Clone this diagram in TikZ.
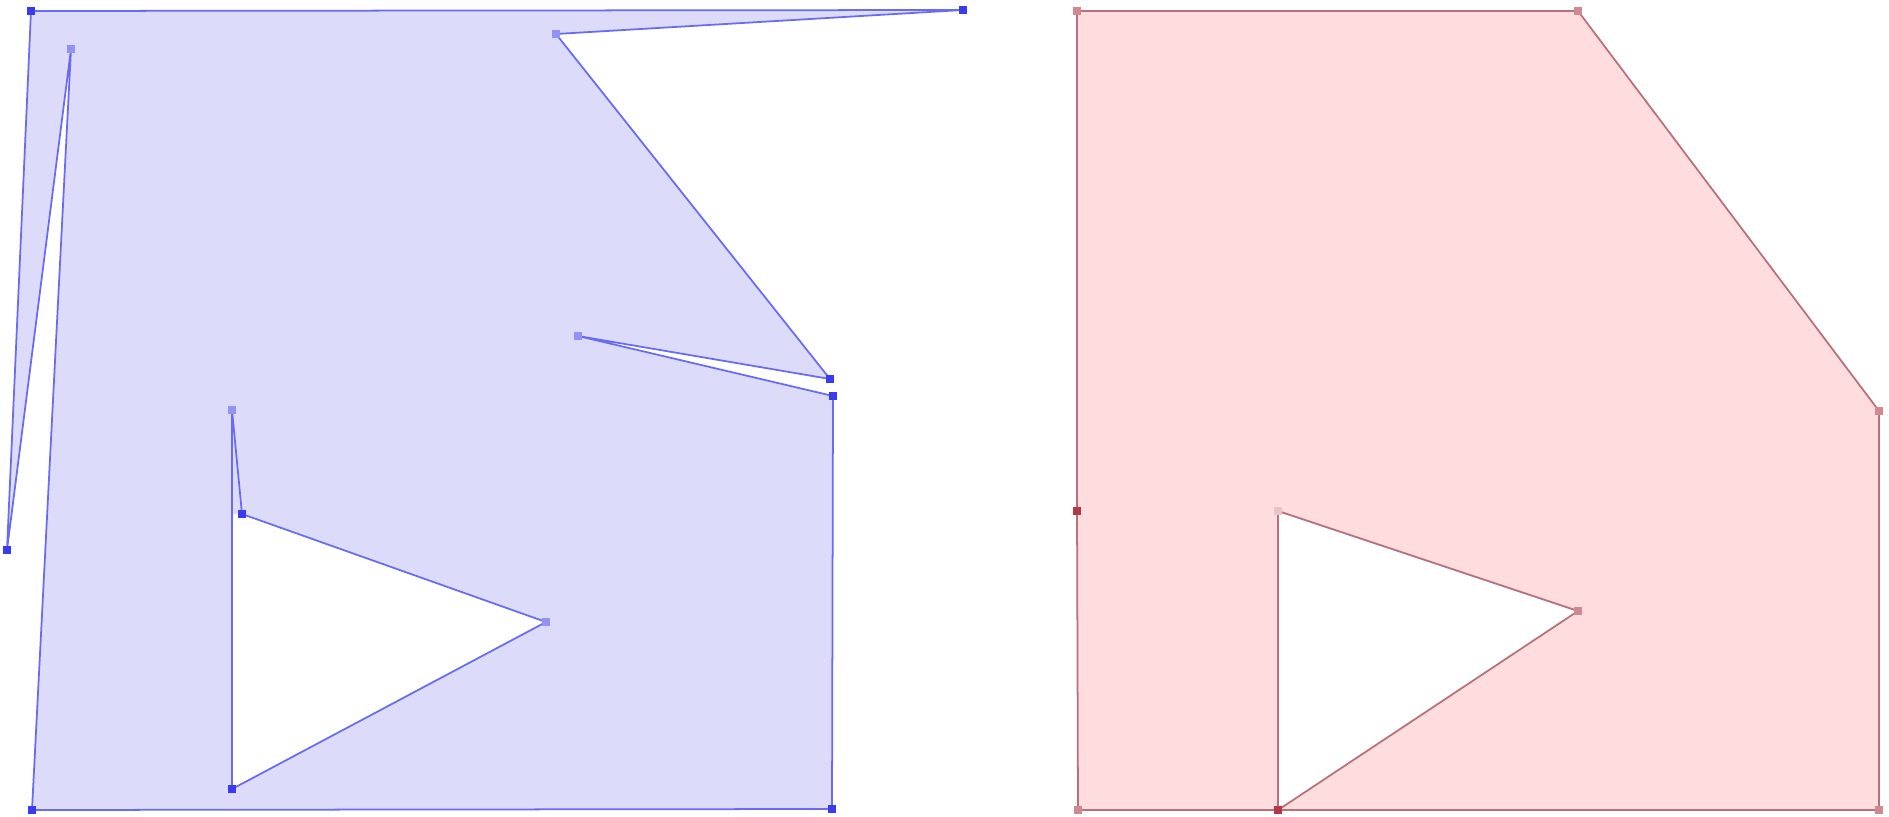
\documentclass[tikz,border=0pt]{standalone}
\usepackage{tikz}
\usetikzlibrary{positioning}
\definecolor{edgeblue}{HTML}{6A6AF2}
\definecolor{fillblue}{HTML}{DCDCFA}
\definecolor{markblue}{HTML}{3A3AEE}
\definecolor{edgered}{HTML}{B8707A}
\definecolor{fillred}{HTML}{FFDCDE}
\definecolor{markred}{HTML}{B23A48}
\tikzset{
  bluepoly/.style={draw=edgeblue, line width=1pt, line join=round},
  redpoly/.style={draw=edgered, line width=1pt, line join=round},
  vertmark/.style={rectangle, inner sep=0pt, minimum size=0.15cm},
  bluevert/.style={vertmark, fill=markblue},
  paleblue/.style={vertmark, fill=markblue!55},
  redvert/.style={vertmark, fill=markred},
  palered/.style={vertmark, fill=markred!60}
}

\begin{document}
\begin{tikzpicture}[x=0.02cm, y=-0.02cm]
  \useasboundingbox (0,0) rectangle (1889,817);

  % left shape
  \coordinate (b1) at (31,11);
  \coordinate (b2) at (963,10);
  \coordinate (b3) at (556,34);
  \coordinate (b4) at (830,379);
  \coordinate (b5) at (578,336);
  \coordinate (b6) at (833,396);
  \coordinate (b7) at (832,809);
  \coordinate (b8) at (32,810);
  \coordinate (b9) at (71,49);
  \coordinate (b10) at (7,550);
  % hole of the left shape
  \coordinate (h1) at (232,410);
  \coordinate (h2) at (242,514);
  \coordinate (h3) at (546,622);
  \coordinate (h4) at (232,789);
  \coordinate (h0) at (232,514);

  \fill[fillblue, even odd rule]
    (b1) -- (b2) -- (b3) -- (b4) -- (b5) -- (b6) -- (b7) -- (b8) -- (b9) -- (b10) -- cycle
    (h0) -- (h2) -- (h3) -- (h4) -- cycle;
  \draw[bluepoly] (b1) -- (b2) -- (b3) -- (b4) -- (b5) -- (b6) -- (b7) -- (b8) -- (b9) -- (b10) -- cycle;
  \draw[bluepoly] (h1) -- (h2) -- (h3) -- (h4) -- cycle;

  \foreach \p in {b1,b2,b4,b6,b7,b8,b10,h2,h4}
    \node[bluevert] (m-\p) at (\p) {};
  \foreach \p in {b3,b5,b9,h1,h3}
    \node[paleblue] (m-\p) at (\p) {};

  % right shape
  \coordinate (r1) at (1077,11);
  \coordinate (r2) at (1578,11);
  \coordinate (r3) at (1879,411);
  \coordinate (r4) at (1879,810);
  \coordinate (r5) at (1278,810);
  \coordinate (r6) at (1078,810);
  \coordinate (r7) at (1077,511);
  % hole of the right shape
  \coordinate (q1) at (1278,511);
  \coordinate (q2) at (1578,611);

  \fill[fillred, even odd rule]
    (r1) -- (r2) -- (r3) -- (r4) -- (r5) -- (r6) -- (r7) -- cycle
    (q1) -- (q2) -- (r5) -- cycle;
  \draw[redpoly] (r1) -- (r2) -- (r3) -- (r4) -- (r5) -- (r6) -- (r7) -- cycle;
  \draw[redpoly] (q1) -- (q2) -- (r5) -- cycle;

  \foreach \p in {r1,r2,r3,r4,r6,q2}
    \node[palered] (m-\p) at (\p) {};
  \foreach \p in {r5,r7}
    \node[redvert] (m-\p) at (\p) {};
  \node[vertmark, fill=markred!30] (m-q1) at (q1) {};
\end{tikzpicture}
\end{document}
